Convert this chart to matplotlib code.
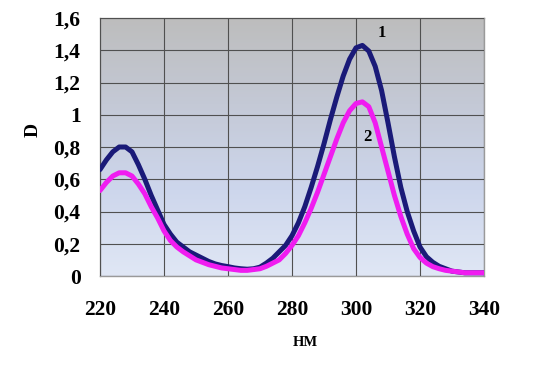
import numpy as np
import matplotlib
matplotlib.use("Agg")
import matplotlib.pyplot as plt
from matplotlib.colors import LinearSegmentedColormap

wavelength = list(range(220, 342, 2))
curve1 = [0.66, 0.72, 0.77, 0.80, 0.80, 0.77, 0.69, 0.60, 0.50, 0.41,
          0.32, 0.26, 0.21, 0.18, 0.15, 0.13, 0.11, 0.09, 0.075, 0.065,
          0.058, 0.05, 0.045, 0.042, 0.045, 0.055, 0.08, 0.11, 0.15, 0.19,
          0.25, 0.33, 0.43, 0.55, 0.68, 0.82, 0.97, 1.11, 1.24, 1.345,
          1.415, 1.43, 1.395, 1.30, 1.15, 0.95, 0.74, 0.55, 0.40, 0.28,
          0.18, 0.12, 0.085, 0.06, 0.045, 0.03, 0.025, 0.02, 0.02, 0.02, 0.02]
curve2 = [0.53, 0.58, 0.62, 0.64, 0.64, 0.62, 0.57, 0.51, 0.43, 0.36,
          0.28, 0.22, 0.18, 0.15, 0.125, 0.10, 0.085, 0.07, 0.06, 0.05,
          0.045, 0.04, 0.035, 0.035, 0.04, 0.045, 0.06, 0.08, 0.10, 0.14,
          0.19, 0.25, 0.33, 0.42, 0.52, 0.63, 0.74, 0.85, 0.95, 1.025,
          1.07, 1.08, 1.05, 0.95, 0.80, 0.65, 0.50, 0.37, 0.26, 0.17,
          0.115, 0.08, 0.058, 0.045, 0.035, 0.03, 0.025, 0.02, 0.02, 0.02, 0.02]
x_ticks = [220, 240, 260, 280, 300, 320, 340]
y_ticks = [0, 0.2, 0.4, 0.6, 0.8, 1.0, 1.2, 1.4, 1.6]
y_labels = ["0", "0,2", "0,4", "0,6", "0,8", "1", "1,2", "1,4", "1,6"]

plt.rcParams['font.family'] = ['Liberation Serif', 'DejaVu Serif']

fig = plt.figure(figsize=(5.36, 3.70), dpi=100)
ax = fig.add_axes([100/536, 94/370, 384/536, 258/370])

cmap = LinearSegmentedColormap.from_list("bg", ["#e0e7f5", "#cdd6ec", "#c4c9d6", "#bdbdbd"])
grad = np.linspace(0, 1, 256).reshape(-1, 1)
ax.imshow(grad, aspect='auto', cmap=cmap, origin='lower',
          extent=[220, 340, 0, 1.6], zorder=0)

ax.plot(wavelength, curve1, color="#1a1a78", lw=3.6, zorder=3,
        solid_capstyle='round', solid_joinstyle='round')
ax.plot(wavelength, curve2, color="#f01cf0", lw=3.6, zorder=4,
        solid_capstyle='round', solid_joinstyle='round')

ax.set_xlim(220, 340)
ax.set_ylim(0, 1.6)
ax.set_xticks(x_ticks)
ax.set_xticklabels([str(v) for v in x_ticks], fontsize=15.5, fontweight='bold')
ax.set_yticks(y_ticks)
ax.set_yticklabels(y_labels, fontsize=15.5, fontweight='bold')
ax.tick_params(length=0, pad=14)
ax.tick_params(axis='x', pad=17)
ax.grid(True, color="#505050", lw=0.8, zorder=1)
ax.set_axisbelow(False)
for s in ax.spines.values():
    s.set_color("#9a9a9a")
    s.set_linewidth(1.0)

ax.text(308, 1.505, "1", fontsize=12, fontweight='bold', ha='center', va='center', zorder=5)
ax.text(303.5, 0.86, "2", fontsize=12, fontweight='bold', ha='center', va='center', zorder=5)

fig.text(33/536, 1 - 130/370, "D", rotation=90, fontsize=14, fontweight='bold',
         ha='center', va='center')
fig.text(305/536, 1 - 342/370, "НМ", fontsize=10.5, fontweight='bold',
         ha='center', va='center')

fig.savefig("out.png", dpi=100)
